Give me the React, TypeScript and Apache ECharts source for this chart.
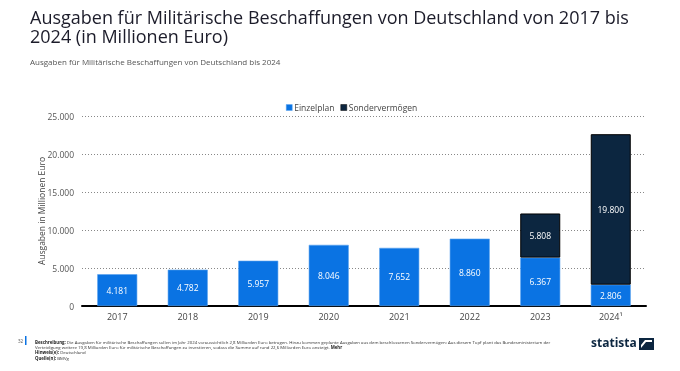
import React, { useEffect, useRef } from "react";
import * as echarts from "echarts";

const categories = ["2017", "2018", "2019", "2020", "2021", "2022", "2023", "2024¹"];
const einzelplan = [4181, 4782, 5957, 8046, 7652, 8860, 6367, 2806];
const sondervermoegen: (number | null)[] = [null, null, null, null, null, null, 5808, 19800];
const yTicks = [0, 5000, 10000, 15000, 20000, 25000];

const fmt = (v: number) => String(v).replace(/\B(?=(\d{3})+(?!\d))/g, ".");

export default function App() {
  const ref = useRef<HTMLDivElement>(null);
  useEffect(() => {
    if (!ref.current) return;
    const chart = echarts.init(ref.current, null, { renderer: "svg" });
    const font = "'Open Sans', sans-serif";
    chart.setOption({
      animation: false,
      textStyle: { fontFamily: font },
      legend: {
        top: 98,
        left: 281,
        itemWidth: 6,
        itemHeight: 6,
        itemGap: 6,
        icon: "rect",
        itemStyle: { borderWidth: 0.5 },
        textStyle: { fontSize: 8.5, color: "#444", fontFamily: font, padding: [0, 0, 0, -3] },
        data: ["Einzelplan", "Sondervermögen"],
      },
      grid: { left: 82, right: 34, top: 116, bottom: 65 },
      xAxis: {
        type: "category",
        data: categories,
        axisLine: { lineStyle: { color: "#000", width: 2 } },
        axisTick: { show: false },
        axisLabel: { color: "#444", fontSize: 9, margin: 6, fontFamily: font },
      },
      yAxis: {
        type: "value",
        min: yTicks[0],
        max: yTicks[yTicks.length - 1],
        interval: 5000,
        name: "Ausgaben in Millionen Euro",
        nameLocation: "middle",
        nameGap: 36,
        nameMoveOverlap: false,
        nameTextStyle: { color: "#444", fontSize: 8.5, fontFamily: font },
        axisLine: { show: false },
        axisTick: { show: false },
        axisLabel: { color: "#555", fontSize: 8.5, margin: 8, formatter: (v: number) => fmt(v), fontFamily: font },
        splitLine: { lineStyle: { type: [1, 2], color: "#888", width: 1 } },
      },
      series: [
        {
          name: "Einzelplan",
          type: "bar",
          stack: "total",
          barWidth: 40,
          data: einzelplan,
          itemStyle: { color: "#0a73e3", borderColor: "#5aa2ee", borderWidth: 0.6 },
          label: {
            show: true,
            position: "inside",
            color: "#fff",
            fontSize: 8.5,
            fontFamily: font,
            formatter: (p: any) => fmt(p.value),
          },
        },
        {
          name: "Sondervermögen",
          type: "bar",
          stack: "total",
          barWidth: 40,
          data: sondervermoegen,
          itemStyle: { color: "#0c2640", borderColor: "#000", borderWidth: 1 },
          label: {
            show: true,
            position: "inside",
            color: "#fff",
            fontSize: 8.5,
            fontFamily: font,
            formatter: (p: any) => (p.value == null ? "" : fmt(p.value)),
          },
        },
      ],
      graphic: [
        {
          type: "text",
          left: 30,
          top: 8,
          style: {
            text: "Ausgaben für Militärische Beschaffungen von Deutschland von 2017 bis",
            fontSize: 18,
            lineHeight: 17,
            fill: "#1c1c2a",
            fontFamily: font,
          },
        },
        {
          type: "text",
          left: 30,
          top: 27,
          style: {
            text: "2024 (in Millionen Euro)",
            fontSize: 18,
            lineHeight: 17,
            fill: "#1c1c2a",
            fontFamily: font,
          },
        },
        {
          type: "text",
          left: 30,
          top: 57,
          style: {
            text: "Ausgaben für Militärische Beschaffungen von Deutschland bis 2024",
            fontSize: 8,
            fill: "#555",
            fontFamily: font,
          },
        },
        {
          type: "text",
          left: 18,
          top: 338,
          style: { text: "32", fontSize: 4.5, fill: "#555", fontFamily: font },
        },
        { type: "rect", shape: { x: 25, y: 336, width: 1.5, height: 9 }, style: { fill: "#0a73e3" } },
        {
          type: "text",
          left: 35,
          top: 339,
          style: {
            text:
              "{b|Beschreibung:} Die Ausgaben für militärische Beschaffungen sollen im Jahr 2024 voraussichtlich 2,8 Milliarden Euro betragen. Hinzu kommen geplante Ausgaben aus dem beschlossenen Sondervermögen: Aus diesem Topf plant das Bundesministerium der\nVerteidigung weitere 19,8 Milliarden Euro für militärische Beschaffungen zu investieren, sodass die Summe auf rund 22,6 Milliarden Euro ansteigt. {u|Mehr}\n{b|Hinweis(e):} Deutschland\n{b|Quelle(n):} BMVg",
            fontSize: 4.35,
            lineHeight: 5.3,
            fill: "#333",
            fontFamily: font,
            rich: {
              b: { fontSize: 4.35, fontWeight: "bold", fill: "#222", fontFamily: font, lineHeight: 5.3 },
              u: { fontSize: 4.35, fontWeight: "bold", fill: "#222", fontFamily: font, lineHeight: 5.3 },
            },
          },
        },
        {
          type: "text",
          left: 591,
          top: 336,
          style: { text: "statista", fontSize: 12, fontWeight: "bold", fill: "#0c2640", fontFamily: font },
        },
        { type: "rect", shape: { x: 639, y: 338, width: 15, height: 12 }, style: { fill: "#0c2640" } },
        {
          type: "polygon",
          shape: { points: [[641, 348], [646, 342], [652, 342], [652, 340], [645, 340], [641, 345]] },
          style: { fill: "#fff" },
        },
      ],
    });
    return () => chart.dispose();
  }, []);
  return <div ref={ref} style={{ position: "fixed", left: 0, top: 0, width: 680, height: 371 }} />;
}
